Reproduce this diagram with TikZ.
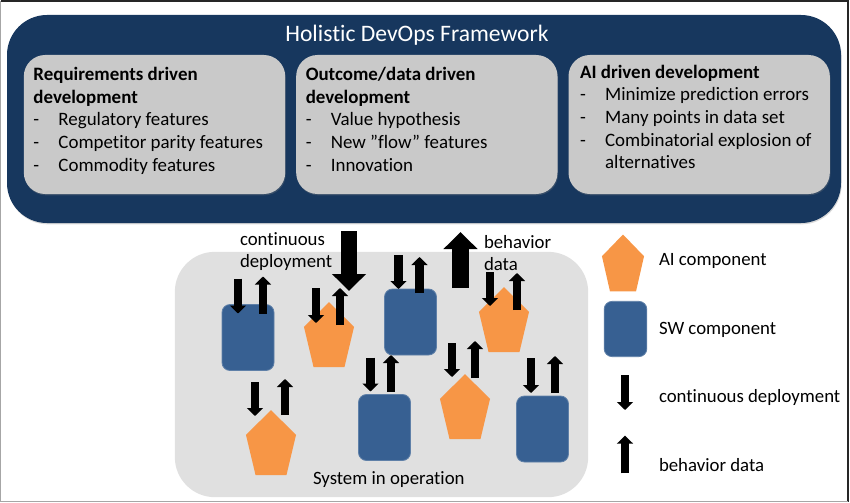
\documentclass[tikz,border=0pt]{standalone}
\usepackage{fontspec}
\setmainfont[Ligatures=NoCommon]{Carlito}
\usetikzlibrary{arrows.meta,shapes,positioning,calc,shadows}
\definecolor{panel_blue}{HTML}{17375E}
\definecolor{sw_blue}{HTML}{376092}
\definecolor{ai_orange}{HTML}{F79646}
\newcommand{\dashitem}{\makebox[18.8pt][l]{-}}
\begin{document}
\begin{tikzpicture}[x=0.75pt,y=-0.75pt,inner sep=0pt,outer sep=0pt,node distance=8.25pt]
\tikzstyle{framework}=[rectangle,rounded corners=30pt,fill=panel_blue,minimum width=625.5pt,minimum height=156pt,drop shadow={shadow xshift=0.5pt,shadow yshift=-1pt,opacity=0.3}]
\tikzstyle{dev_box}=[rectangle,rounded corners=16pt,fill=black!21,minimum width=196pt,minimum height=104.25pt,drop shadow={shadow xshift=0.5pt,shadow yshift=-1pt,opacity=0.3}]
\tikzstyle{dev_text}=[align=left,font=\fontsize{14.2}{17}\selectfont,text=black]
\tikzstyle{plain_text}=[align=left,font=\fontsize{14.1}{17}\selectfont,text=black,anchor=west]
\tikzstyle{system}=[rectangle,rounded corners=30pt,fill=black!12,minimum width=310pt,minimum height=184pt]
\tikzstyle{sw_comp}=[rectangle,rounded corners=6pt,draw=sw_blue!80!white,line width=0.6pt,fill=sw_blue,minimum width=39pt,minimum height=49.5pt]
\tikzstyle{ai_comp}=[regular polygon,regular polygon sides=5,fill=ai_orange,minimum size=45pt,xscale=0.877,yscale=1.197,transform shape]
\tikzstyle{ai_legend}=[regular polygon,regular polygon sides=5,fill=ai_orange,minimum size=45pt,xscale=0.737,yscale=1.05,transform shape]
\tikzstyle{deploy}=[line width=6.4pt,-{Triangle[width=12pt,length=6pt]},black]
\tikzstyle{deploy_big}=[line width=12.4pt,-{Triangle[width=24.75pt,length=12.75pt]},black]

\useasboundingbox (0,0) rectangle (850,503);

\coordinate (corner_nw) at (0.5,0.8);
\coordinate (corner_ne) at (848.2,0.8);
\coordinate (corner_se) at (848.2,501.5);
\coordinate (corner_sw) at (0.5,501.5);
\draw[black!85,line width=1.2pt] (corner_nw) -- (corner_ne) -- (corner_se);
\draw[black!35,line width=0.8pt] (corner_se) -- (corner_sw) -- (corner_nw);

\node[framework] (holistic) at (424,119) {};
\node[font=\fontsize{17.7}{22}\selectfont,text=white] (holistic_title) at (417,35.5) {Holistic DevOps Framework};

\node[dev_box] (requirements) at (154.5,124.5) {};
\node[dev_box] (outcome) [right=of requirements] {};
\node[dev_box] (ai_driven) [right=of outcome] {};

\node[dev_text] (requirements_text) [below right=9.2pt and 7.2pt of requirements.north west]
  {\textbf{Requirements driven}\\\textbf{development}\\\dashitem Regulatory features\\\dashitem Competitor parity features\\\dashitem Commodity features};
\node[dev_text] (outcome_text) [below right=9.2pt and 7.2pt of outcome.north west]
  {\textbf{Outcome/data driven}\\\textbf{development}\\\dashitem Value hypothesis\\\dashitem New "flow" features\\\dashitem Innovation};
\node[dev_text] (ai_driven_text) [below right=7.4pt and 8.7pt of ai_driven.north west]
  {\textbf{AI driven development}\\\dashitem Minimize prediction errors\\\dashitem Many points in data set\\\dashitem Combinatorial explosion of\\\hspace*{18.8pt}alternatives};

\node[system] (system) at (381.5,374.5) {};
\node[plain_text] (system_label) at (313,479.5) {System in operation};

\node[sw_comp] (sw1) at (248,337.5) {};
\node[sw_comp] (sw2) at (410.5,322) {};
\node[sw_comp] (sw3) at (384.5,427.5) {};
\node[sw_comp] (sw4) at (542.5,429) {};
\node[ai_comp] (ai1) at (329,338) {};
\node[ai_comp] (ai2) at (504,323) {};
\node[ai_comp] (ai3) at (465,410) {};
\node[ai_comp] (ai4) at (271,446) {};

\draw[deploy] ($(sw1)+(-10,-59)$) -- ($(sw1)+(-10,-24)$);
\draw[deploy] ($(sw1)+(15,-24)$) -- ($(sw1)+(15,-61)$);
\draw[deploy] ($(sw2)+(-12,-67)$) -- ($(sw2)+(-12,-33)$);
\draw[deploy] ($(sw2)+(9,-29)$) -- ($(sw2)+(9,-65)$);
\draw[deploy] ($(sw3)+(-14,-70)$) -- ($(sw3)+(-14,-36)$);
\draw[deploy] ($(sw3)+(6.5,-36)$) -- ($(sw3)+(6.5,-72.5)$);
\draw[deploy] ($(sw4)+(-11.5,-71)$) -- ($(sw4)+(-11.5,-36)$);
\draw[deploy] ($(sw4)+(12.5,-36)$) -- ($(sw4)+(12.5,-73)$);
\draw[deploy] ($(ai1)+(-13,-50)$) -- ($(ai1)+(-13,-15)$);
\draw[deploy] ($(ai1)+(11,-13)$) -- ($(ai1)+(11,-50)$);
\draw[deploy] ($(ai2)+(-14,-51)$) -- ($(ai2)+(-14,-17)$);
\draw[deploy] ($(ai2)+(13,-13)$) -- ($(ai2)+(13,-50)$);
\draw[deploy] ($(ai3)+(-13,-67)$) -- ($(ai3)+(-13,-33)$);
\draw[deploy] ($(ai3)+(10,-32)$) -- ($(ai3)+(10,-69)$);
\draw[deploy] ($(ai4)+(-16,-64)$) -- ($(ai4)+(-16,-30)$);
\draw[deploy] ($(ai4)+(14,-31)$) -- ($(ai4)+(14,-67)$);

\coordinate (big_deploy_top) at (349,231);
\coordinate (big_deploy_tip) at (349,291);
\coordinate (big_data_bottom) at (460.5,288);
\coordinate (big_data_tip) at (460.5,232);
\draw[deploy_big] (big_deploy_top) -- (big_deploy_tip);
\draw[deploy_big] (big_data_bottom) -- (big_data_tip);
\node[plain_text] (deploy_label) at (240,251.5) {continuous\\deployment};
\node[plain_text] (data_label) at (484,253) {behavior\\data};

\node[ai_legend] (legend_ai) at (623,266) {};
\node[sw_comp,minimum width=32pt,minimum height=41.5pt] (legend_sw) at (625.5,329) {};
\coordinate (legend_deploy_top) at (625,375);
\coordinate (legend_deploy_tip) at (625,410);
\coordinate (legend_data_bottom) at (625,473.3);
\coordinate (legend_data_tip) at (625,435.7);
\draw[deploy] (legend_deploy_top) -- (legend_deploy_tip);
\draw[deploy] (legend_data_bottom) -- (legend_data_tip);
\node[plain_text] (legend_ai_text) at (659,261) {AI component};
\node[plain_text] (legend_sw_text) at (659,330) {SW component};
\node[plain_text] (legend_deploy_text) at (659,397) {continuous deployment};
\node[plain_text] (legend_data_text) at (659,465) {behavior data};
\end{tikzpicture}
\end{document}
